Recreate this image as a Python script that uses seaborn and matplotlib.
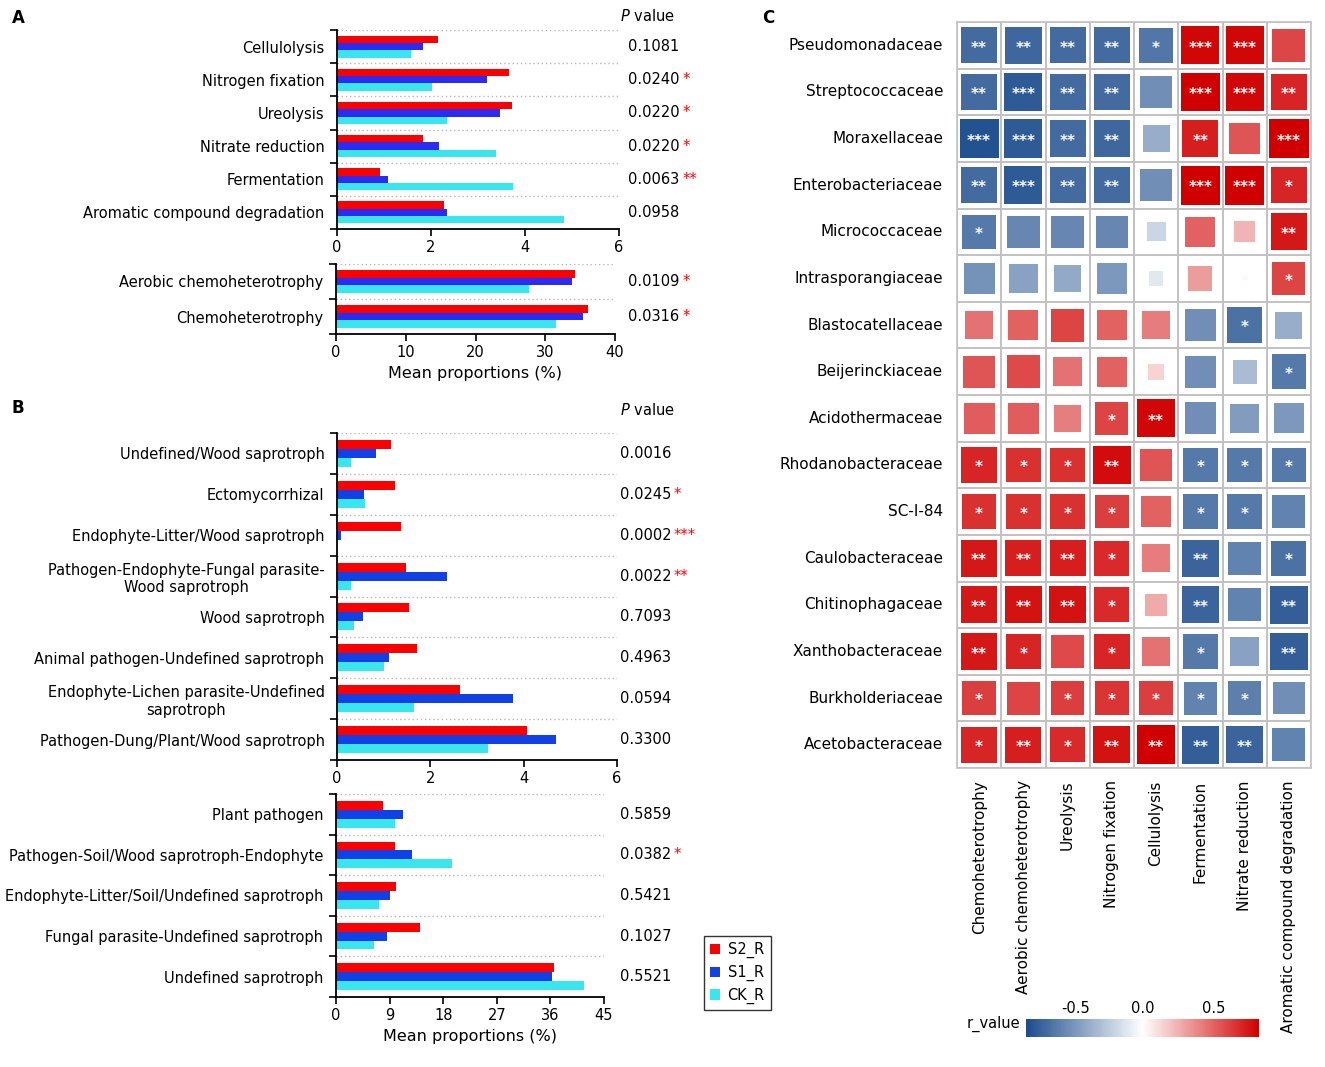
import numpy as np
import pandas as pd
import matplotlib
matplotlib.use('Agg')
import matplotlib.pyplot as plt
import seaborn as sns
from matplotlib.patches import Rectangle, Patch
from matplotlib.colors import LinearSegmentedColormap, TwoSlopeNorm, ListedColormap
from matplotlib.cm import ScalarMappable
from matplotlib.transforms import blended_transform_factory

sns.set_style('ticks')
plt.rcParams['font.family'] = ['DejaVu Sans']
plt.rcParams['text.color'] = 'black'
plt.rcParams['axes.labelcolor'] = 'black'
plt.rcParams['xtick.color'] = 'black'
plt.rcParams['ytick.color'] = 'black'

# ---- Panel A data (bacterial functions) ----
a_funcs = ['Cellulolysis', 'Nitrogen fixation', 'Ureolysis', 'Nitrate reduction',
           'Fermentation', 'Aromatic compound degradation']
a_s2 = [2.15, 3.67, 3.72, 1.84, 0.91, 2.28]
a_s1 = [1.82, 3.19, 3.47, 2.18, 1.09, 2.35]
a_ck = [1.58, 2.02, 2.33, 3.38, 3.74, 4.84]
a_pvals = ['0.1081', '0.0240', '0.0220', '0.0220', '0.0063', '0.0958']
a_sig = ['', '*', '*', '*', '**', '']

a2_funcs = ['Aerobic chemoheterotrophy', 'Chemoheterotrophy']
a2_s2 = [34.3, 36.1]
a2_s1 = [33.8, 35.4]
a2_ck = [27.6, 31.5]
a2_pvals = ['0.0109', '0.0316']
a2_sig = ['*', '*']

# ---- Panel B data (fungal guilds) ----
b_guilds = ['Undefined/Wood saprotroph', 'Ectomycorrhizal',
            'Endophyte-Litter/Wood saprotroph',
            'Pathogen-Endophyte-Fungal parasite-\nWood saprotroph',
            'Wood saprotroph', 'Animal pathogen-Undefined saprotroph',
            'Endophyte-Lichen parasite-Undefined\nsaprotroph',
            'Pathogen-Dung/Plant/Wood saprotroph']
b_s2 = [1.15, 1.24, 1.37, 1.48, 1.55, 1.72, 2.64, 4.08]
b_s1 = [0.83, 0.57, 0.08, 2.36, 0.56, 1.12, 3.78, 4.69]
b_ck = [0.31, 0.59, 0.0, 0.30, 0.36, 1.00, 1.66, 3.23]
b_pvals = ['0.0016', '0.0245', '0.0002', '0.0022', '0.7093', '0.4963', '0.0594', '0.3300']
b_sig = ['', '*', '***', '**', '', '', '', '']

b2_guilds = ['Plant pathogen', 'Pathogen-Soil/Wood saprotroph-Endophyte',
             'Endophyte-Litter/Soil/Undefined saprotroph',
             'Fungal parasite-Undefined saprotroph', 'Undefined saprotroph']
b2_s2 = [7.9, 9.9, 10.0, 14.1, 36.6]
b2_s1 = [11.2, 12.7, 9.0, 8.6, 36.3]
b2_ck = [9.9, 19.5, 7.3, 6.4, 41.7]
b2_pvals = ['0.5859', '0.0382', '0.5421', '0.1027', '0.5521']
b2_sig = ['', '*', '', '', '']

groups = ['S2_R', 'S1_R', 'CK_R']

# ---- Panel C data (correlations) ----
families = ['Pseudomonadaceae', 'Streptococcaceae', 'Moraxellaceae', 'Enterobacteriaceae',
            'Micrococcaceae', 'Intrasporangiaceae', 'Blastocatellaceae', 'Beijerinckiaceae',
            'Acidothermaceae', 'Rhodanobacteraceae', 'SC-I-84', 'Caulobacteraceae',
            'Chitinophagaceae', 'Xanthobacteraceae', 'Burkholderiaceae', 'Acetobacteraceae']
functions = ['Chemoheterotrophy', 'Aerobic chemoheterotrophy', 'Ureolysis', 'Nitrogen fixation',
             'Cellulolysis', 'Fermentation', 'Nitrate reduction', 'Aromatic compound degradation']
r_values = [
    [-0.72, -0.74, -0.72, -0.72, -0.66, 0.80, 0.80, 0.59],
    [-0.72, -0.80, -0.72, -0.72, -0.55, 0.82, 0.80, 0.70],
    [-0.84, -0.80, -0.72, -0.74, -0.40, 0.72, 0.55, 0.85],
    [-0.72, -0.80, -0.72, -0.72, -0.55, 0.82, 0.82, 0.70],
    [-0.65, -0.58, -0.58, -0.58, -0.20, 0.50, 0.24, 0.74],
    [-0.53, -0.45, -0.42, -0.50, -0.11, 0.32, 0.02, 0.60],
    [0.45, 0.50, 0.60, 0.50, 0.42, -0.55, -0.68, -0.40],
    [0.55, 0.58, 0.45, 0.50, 0.14, -0.55, -0.32, -0.65],
    [0.52, 0.52, 0.41, 0.60, 0.80, -0.55, -0.48, -0.50],
    [0.70, 0.66, 0.66, 0.78, 0.55, -0.65, -0.65, -0.65],
    [0.66, 0.66, 0.66, 0.62, 0.50, -0.65, -0.65, -0.60],
    [0.74, 0.72, 0.72, 0.68, 0.42, -0.75, -0.60, -0.68],
    [0.74, 0.76, 0.76, 0.68, 0.27, -0.75, -0.60, -0.78],
    [0.74, 0.70, 0.58, 0.70, 0.45, -0.65, -0.45, -0.78],
    [0.62, 0.60, 0.62, 0.65, 0.62, -0.60, -0.62, -0.55],
    [0.70, 0.72, 0.68, 0.76, 0.82, -0.78, -0.75, -0.60],
]
r_sig = [
    ['**', '**', '**', '**', '*', '***', '***', ''],
    ['**', '***', '**', '**', '', '***', '***', '**'],
    ['***', '***', '**', '**', '', '**', '', '***'],
    ['**', '***', '**', '**', '', '***', '***', '*'],
    ['*', '', '', '', '', '', '', '**'],
    ['', '', '', '', '', '', '', '*'],
    ['', '', '', '', '', '', '*', ''],
    ['', '', '', '', '', '', '', '*'],
    ['', '', '', '*', '**', '', '', ''],
    ['*', '*', '*', '**', '', '*', '*', '*'],
    ['*', '*', '*', '*', '', '*', '*', ''],
    ['**', '**', '**', '*', '', '**', '', '*'],
    ['**', '**', '**', '*', '', '**', '', '**'],
    ['**', '*', '', '*', '', '*', '', '**'],
    ['*', '', '*', '*', '*', '*', '*', ''],
    ['*', '**', '*', '**', '**', '**', '**', ''],
]

W, H = 1325, 1067
fig = plt.figure(figsize=(W / 100, H / 100), dpi=100)


def rect(x0, y0, x1, y1):
    return [x0 / W, 1 - y1 / H, (x1 - x0) / W, (y1 - y0) / H]


FS = 10.5


def bar_panel(box, cats, s2, s1, ck, pvals, sig, colors, xmax, xticks, pval_x, star_x,
              xlabel=None):
    ax = fig.add_axes(rect(*box))
    n = len(cats)
    df = pd.DataFrame({'cat': cats * 3,
                       'group': [g for g in groups for _ in range(n)],
                       'value': s2 + s1 + ck})
    sns.barplot(data=df, y='cat', x='value', hue='group', hue_order=groups, order=cats,
                orient='h', palette=colors, width=0.66, gap=0, saturation=1,
                errorbar=None, legend=False, linewidth=0, ax=ax)
    ax.set_xlim(0, xmax)
    ax.set_ylim(n - 0.5, -0.5)
    ax.set_xticks(xticks)
    ax.set_yticks(range(n))
    ax.set_yticklabels(cats, fontsize=FS)
    for t in ax.get_yticklabels():
        t.set_multialignment('center')
    ax.set_yticks(np.arange(n + 1) - 0.5, minor=True)
    ax.tick_params(axis='y', which='major', length=0, pad=9)
    ax.tick_params(axis='y', which='minor', length=5, width=1.2, direction='out')
    ax.tick_params(axis='x', length=5, width=1.2, labelsize=FS, pad=3)
    ax.grid(axis='y', which='minor', linestyle=(0, (1, 2)), color='#b8b8b8', linewidth=1)
    ax.set_axisbelow(True)
    sns.despine(ax=ax)
    for s in ['left', 'bottom']:
        ax.spines[s].set_linewidth(1.3)
        ax.spines[s].set_color('black')
    ax.set_ylabel('')
    ax.set_xlabel(xlabel if xlabel else '', fontsize=11.5)
    trans = blended_transform_factory(fig.transFigure, ax.transData)
    for i, (p, s) in enumerate(zip(pvals, sig)):
        ax.text(pval_x / W, i, p, transform=trans, fontsize=FS, va='center', ha='left')
        if s:
            ax.text(star_x / W, i, s, transform=trans, fontsize=FS, va='center', ha='left',
                    color='red')
    return ax


cols_a = ['#fa0000', '#2b2bf2', '#3ae6ee']
cols_b = ['#fa0000', '#1040e6', '#3ae6ee']

bar_panel((337, 30, 619, 229), a_funcs, a_s2, a_s1, a_ck, a_pvals, a_sig, cols_a,
          6, [0, 2, 4, 6], 628, 683)
bar_panel((336, 264, 615, 334), a2_funcs, a2_s2, a2_s1, a2_ck, a2_pvals, a2_sig, cols_a,
          40, [0, 10, 20, 30, 40], 628, 683, 'Mean proportions (%)')
bar_panel((337, 433, 617, 760), b_guilds, b_s2, b_s1, b_ck, b_pvals, b_sig, cols_b,
          6, [0, 2, 4, 6], 620, 674)
bar_panel((336, 794, 604, 997), b2_guilds, b2_s2, b2_s1, b2_ck, b2_pvals, b2_sig, cols_b,
          45, [0, 9, 18, 27, 36, 45], 620, 674, 'Mean proportions (%)')

fig.text(620 / W, 1 - 16 / H, '$\\it{P}$ value', fontsize=FS, va='center', ha='left')
fig.text(620 / W, 1 - 410 / H, '$\\it{P}$ value', fontsize=FS, va='center', ha='left')

handles = [Patch(facecolor=c, edgecolor='none') for c in cols_b]
fig.legend(handles, groups, loc='upper left', bbox_to_anchor=(697 / W, 1 - 929 / H),
           frameon=True, fancybox=False, edgecolor='black', fontsize=FS,
           handlelength=0.7, handleheight=0.7, handletextpad=0.5, borderpad=0.4,
           labelspacing=0.45)

# ---- Panel C ----
axc = fig.add_axes(rect(957, 22, 1311, 768))
corr = pd.DataFrame(r_values, index=families, columns=functions)
sns.heatmap(np.zeros_like(corr.values), cmap=ListedColormap(['white']), cbar=False,
            linewidths=1.2, linecolor='#c2c2c2', xticklabels=functions,
            yticklabels=families, ax=axc)
axc.tick_params(length=0, labelsize=11)
axc.tick_params(axis='y', pad=10)
axc.tick_params(axis='x', pad=9)
plt.setp(axc.get_yticklabels(), rotation=0, ha='right')
plt.setp(axc.get_xticklabels(), rotation=90, ha='center', va='top')
for s in axc.spines.values():
    s.set_visible(True)
    s.set_color('#c2c2c2')
    s.set_linewidth(1.2)

cmap = LinearSegmentedColormap.from_list('rv', ['#1c4c8c', '#ffffff', '#d00000'])
norm = TwoSlopeNorm(vmin=-0.87, vcenter=0.0, vmax=0.82)
cell_w = (1311 - 957) / len(functions)
cell_h = (768 - 22) / len(families)
for i in range(len(families)):
    for j in range(len(functions)):
        r = corr.iloc[i, j]
        side = 0.89 * np.sqrt(abs(r) / 0.85)
        w = side
        h = side * cell_w / cell_h
        axc.add_patch(Rectangle((j + 0.5 - w / 2, i + 0.5 - h / 2), w, h,
                                facecolor=cmap(norm(r)), edgecolor='none'))
        if r_sig[i][j]:
            axc.text(j + 0.5, i + 0.56, r_sig[i][j], color='white', fontsize=11,
                     fontweight='bold', ha='center', va='center')

cax = fig.add_axes(rect(1026, 1019, 1259, 1037))
cb = fig.colorbar(ScalarMappable(norm=norm, cmap=cmap), cax=cax, orientation='horizontal')
cb.set_ticks([-0.5, 0.0, 0.5])
cb.set_ticklabels(['-0.5', '0.0', '0.5'])
cb.outline.set_visible(False)
cax.xaxis.set_ticks_position('top')
cax.tick_params(length=0, labelsize=10.5, pad=2)
fig.text(967 / W, 1 - 1024 / H, 'r_value', fontsize=10.5, va='center', ha='left')

# panel letters
for lab, x, y in [('A', 18, 18), ('B', 18, 408), ('C', 768, 18)]:
    fig.text(x / W, 1 - y / H, lab, fontsize=12, fontweight='bold', va='center', ha='center')

fig.savefig('out.png', dpi=100)
